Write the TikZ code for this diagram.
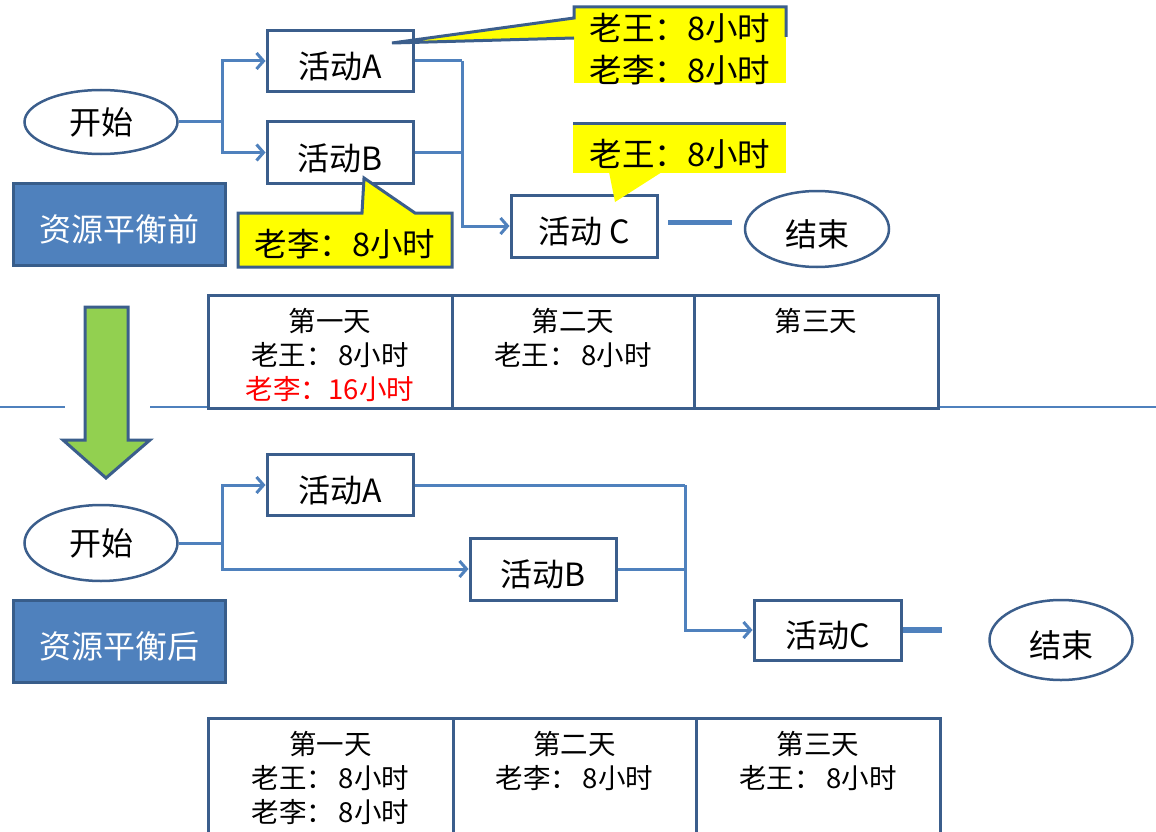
\documentclass[tikz,border=0pt]{standalone}
\usepackage{fontspec}
\setmainfont{Noto Sans CJK SC}
\usetikzlibrary{arrows.meta,shapes.geometric,calc}
\definecolor{bord}{HTML}{3B5E8C}
\definecolor{conn}{HTML}{4F81BD}
\definecolor{lblfill}{HTML}{4F81BD}
\definecolor{lblbord}{HTML}{385D8A}
\definecolor{grn}{HTML}{92D050}
\definecolor{ylw}{HTML}{FFFF00}
\definecolor{sep}{HTML}{4F81BD}
\tikzset{
 bigfont/.style={font=\fontsize{32}{38}\selectfont},
 textdown/.style={text height=36pt, text depth=1pt},
 actbox/.style={draw=bord, line width=3pt, fill=white, minimum width=146pt, minimum height=61pt, inner sep=0pt, bigfont, textdown},
 ellnode/.style={ellipse, draw=bord, line width=2.5pt, fill=white, inner sep=0pt, bigfont},
 lblbox/.style={draw=lblbord, line width=3pt, fill=lblfill, text=white, minimum width=212pt, minimum height=82pt, inner sep=0pt, bigfont, textdown},
 link/.style={draw=conn, line width=3pt},
 linkarrow/.style={link, -{Straight Barb[length=7pt,width=16pt]}},
 cell/.style={draw=bord, line width=3pt, fill=white, inner sep=0pt},
 celltext/.style={anchor=north, align=center, font=\fontsize{27.5}{34}\selectfont, inner sep=0pt},
 calltext/.style={align=center, font=\fontsize{32.5}{42}\selectfont, inner sep=0pt},
}
\begin{document}
\begin{tikzpicture}[x=1pt,y=-1pt]
\useasboundingbox (0,0) rectangle (1156,832);
\fill[white] (0,0) rectangle (1156,832);

% separator line
\coordinate (sepL0) at (0,407);
\coordinate (sepL1) at (65,407);
\coordinate (sepR0) at (150,407);
\coordinate (sepR1) at (1156,407);
\draw[sep, line width=1.2pt] (sepL0) -- (sepL1);
\draw[sep, line width=1.2pt] (sepR0) -- (sepR1);

% ===== top diagram =====
\node[ellnode, minimum width=153pt, minimum height=64pt] (s1) at (101,122) {开始};
\node[actbox] (a1) at (340,61) {活动A};
\node[actbox] (b1) at (340,152.5) {活动B};
\node[actbox, minimum height=62pt] (c1) at (584,226) {活动 C};
\node[ellnode, minimum width=144pt, minimum height=76pt, textdown] (e1) at (817,229) {结束};
\node[lblbox] (pre) at (119,224) {资源平衡前};

\coordinate (j1) at (222,122);
\coordinate (j2) at (462,61);
\draw[link] (s1.east) -- (j1);
\draw[linkarrow] (j1) |- (a1.west);
\draw[linkarrow] (j1) |- (b1.west);
\draw[link] (a1.east) -- (j2);
\draw[linkarrow] (j2) |- (c1.west);
\draw[link] (b1.east) -- (b1.east -| j2);
\coordinate (t1a) at (668,222);
\coordinate (t1b) at (732,222);
\draw[link, line width=5pt] (t1a) -- (t1b);

% callout 1
\fill[ylw] (574,7) rectangle (786,83);
\fill[ylw] (574,18) -- (392,43) -- (574,38) -- cycle;
\draw[bord, line width=3pt, line join=miter] (574,38) -- (392,43) -- (574,18) -- (574,7) -- (786,7) -- (786,37);
\node[calltext] (cl1) at (680,49) {老王：8小时\\老李：8小时};

% callout 2
\fill[ylw] (573,124) rectangle (786,173);
\fill[ylw] (609,172) -- (662,172) -- (615,202) -- cycle;
\draw[bord, line width=3pt] (573,124) -- (786,124);
\node[calltext] (cl2) at (680,154) {老王：8小时};

% callout 3
\filldraw[fill=ylw, draw=bord, line width=3pt] (238,213) -- (362,213) -- (364,178) -- (415,213) -- (452,213) -- (452,267) -- (238,267) -- cycle;
\node[calltext] (cl3) at (345,244) {老李：8小时};

% green arrow
\filldraw[fill=grn, draw=bord, line width=3pt] (85,307) -- (128,307) -- (128,440) -- (150,440) -- (106,478) -- (63,440) -- (85,440) -- cycle;

% top table
\node[cell, minimum width=244pt, minimum height=113pt] (p1) at (330,351.5) {};
\node[cell, minimum width=242pt, minimum height=113pt] (p2) at (573,351.5) {};
\node[cell, minimum width=244pt, minimum height=113pt] (p3) at (816,351.5) {};
\node[celltext] (p1t) at (330,308) {第一天\\老王：\,8小时\\\textcolor{red}{老李：16小时}};
\node[celltext] (p2t) at (573,308) {第二天\\老王：\,8小时};
\node[celltext] (p3t) at (816,308) {第三天};

% ===== bottom diagram =====
\node[ellnode, minimum width=153pt, minimum height=76pt] (s2) at (101,543) {开始};
\node[actbox] (a2) at (340,485) {活动A};
\node[actbox, minimum height=62pt] (b2) at (543,569) {活动B};
\node[actbox, minimum width=147pt, minimum height=60pt] (c2) at (827.5,630) {活动C};
\node[ellnode, minimum width=143pt, minimum height=80pt, textdown] (e2) at (1061,640) {结束};
\node[lblbox] (post) at (119,641) {资源平衡后};

\coordinate (j3) at (222,543);
\coordinate (j4) at (685,485);
\draw[link] (s2.east) -- (j3);
\draw[linkarrow] (j3) |- (a2.west);
\draw[linkarrow] (j3) |- (b2.west);
\draw[link] (a2.east) -- (j4);
\draw[linkarrow] (j4) |- (c2.west);
\draw[link] (b2.east) -- (b2.east -| j4);
\coordinate (t2b) at (942,630);
\draw[link, line width=6pt] (c2.east) -- (t2b);

% bottom table
\node[cell, minimum width=245pt, minimum height=118pt] (q1) at (330.5,777) {};
\node[cell, minimum width=243pt, minimum height=118pt] (q2) at (574.5,777) {};
\node[cell, minimum width=244pt, minimum height=118pt] (q3) at (818,777) {};
\node[celltext] (q1t) at (330.5,731) {第一天\\老王：\,8小时\\老李：\,8小时};
\node[celltext] (q2t) at (574.5,731) {第二天\\老李：\,8小时};
\node[celltext] (q3t) at (818,731) {第三天\\老王：\,8小时};
\end{tikzpicture}
\end{document}
